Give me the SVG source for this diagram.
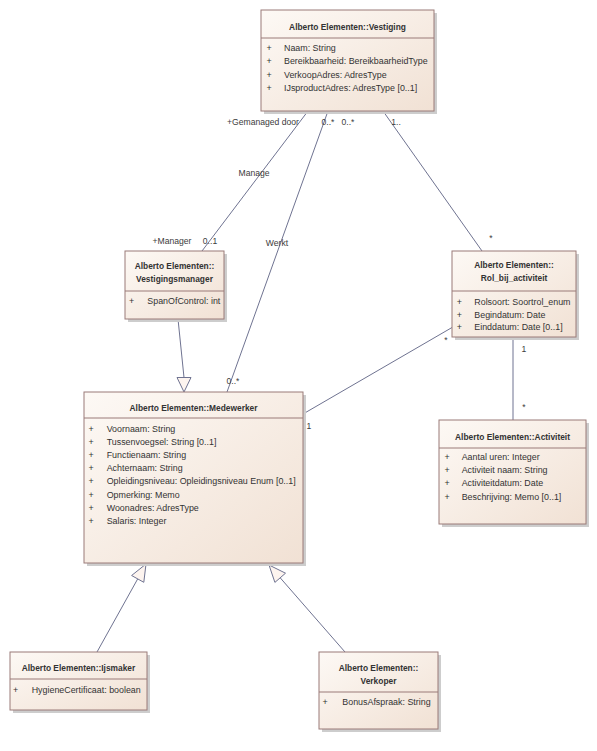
<svg xmlns="http://www.w3.org/2000/svg" width="597" height="751" viewBox="0 0 597 751">
<defs>
<linearGradient id="g" x1="0" y1="0" x2="1" y2="1">
<stop offset="0" stop-color="#FDF9F5"/>
<stop offset="1" stop-color="#F1E1D4"/>
</linearGradient>
<style>
.sh{fill:#CDCDCD}
.bx{fill:url(#g);stroke:#9A7B78;stroke-width:1}
.dv{stroke:#9A7B78;stroke-width:1}
.t{font-family:"Liberation Sans",Arial,sans-serif;font-size:8.4px;font-weight:bold;fill:#333333;text-anchor:middle}
.a{font-family:"Liberation Sans",Arial,sans-serif;font-size:8.9px;fill:#333333}
.p{font-family:"Liberation Sans",Arial,sans-serif;font-size:8.9px;fill:#333333;text-anchor:middle}
.l{font-family:"Liberation Sans",Arial,sans-serif;font-size:8.6px;fill:#3C3C3C;text-anchor:middle}
.c{stroke:#6F7391;stroke-width:1;fill:none}
.tri{fill:#FDF4EF;stroke:#6F7391;stroke-width:1}
</style>
</defs>
<rect width="597" height="751" fill="#FFFFFF"/>

<g id="connectors">
<line class="c" x1="308" y1="111" x2="202" y2="251"/>
<line class="c" x1="328" y1="111" x2="227" y2="392"/>
<line class="c" x1="383" y1="111" x2="482" y2="251"/>
<line class="c" x1="303" y1="414" x2="452" y2="327.5"/>
<line class="c" x1="513" y1="337" x2="513" y2="420"/>
<line class="c" x1="178" y1="319" x2="184" y2="377.5"/>
<polygon class="tri" points="184,392 177,377.5 191,377.5"/>
<line class="c" x1="97" y1="652" x2="137.7" y2="578.9"/>
<polygon class="tri" points="146,564 131.6,575.5 143.8,582.3"/>
<line class="c" x1="345" y1="652" x2="280.2" y2="577.8"/>
<polygon class="tri" points="269,565 274.9,582.4 285.5,573.2"/>
<text class="l" x="263" y="125">+Gemanaged door</text>
<text class="l" x="328" y="125">0..*</text>
<text class="l" x="348" y="125">0..*</text>
<text class="l" x="396" y="125">1..</text>
<text class="l" x="254" y="176">Manage</text>
<text class="l" x="277" y="246">Werkt</text>
<text class="l" x="172" y="243.5">+Manager</text>
<text class="l" x="210" y="243.5">0..1</text>
<text class="l" x="233" y="384">0..*</text>
<text class="l" x="491" y="241">*</text>
<text class="l" x="309" y="429">1</text>
<text class="l" x="446" y="343">*</text>
<text class="l" x="524" y="352">1</text>
<text class="l" x="524" y="410">*</text>
</g>

<g id="vestiging">
<rect class="sh" x="264" y="13" width="173" height="101"/>
<rect class="bx" x="261" y="10" width="173" height="101"/>
<line class="dv" x1="261" y1="38" x2="434" y2="38"/>
<text class="t" x="347.5" y="30">Alberto Elementen::Vestiging</text>
<text class="p" x="269" y="51">+</text><text class="a" x="284" y="51">Naam: String</text>
<text class="p" x="269" y="64.3">+</text><text class="a" x="284" y="64.3">Bereikbaarheid: BereikbaarheidType</text>
<text class="p" x="269" y="77.6">+</text><text class="a" x="284" y="77.6">VerkoopAdres: AdresType</text>
<text class="p" x="269" y="91">+</text><text class="a" x="284" y="91">IJsproductAdres: AdresType [0..1]</text>
</g>

<g id="vestigingsmanager">
<rect class="sh" x="128" y="254" width="99" height="68"/>
<rect class="bx" x="125" y="251" width="99" height="68"/>
<line class="dv" x1="125" y1="291" x2="224" y2="291"/>
<text class="t" x="174.5" y="269">Alberto Elementen::</text>
<text class="t" x="174.5" y="282">Vestigingsmanager</text>
<text class="p" x="131.7" y="304">+</text><text class="a" x="147.3" y="304">SpanOfControl: int</text>
</g>

<g id="rol_bij_activiteit">
<rect class="sh" x="455" y="254" width="124" height="86"/>
<rect class="bx" x="452" y="251" width="124" height="86"/>
<line class="dv" x1="452" y1="291" x2="576" y2="291"/>
<text class="t" x="514" y="268">Alberto Elementen::</text>
<text class="t" x="514" y="281">Rol_bij_activiteit</text>
<text class="p" x="459.3" y="305">+</text><text class="a" x="474.3" y="305">Rolsoort: Soortrol_enum</text>
<text class="p" x="459.3" y="317.5">+</text><text class="a" x="474.3" y="317.5">Begindatum: Date</text>
<text class="p" x="459.3" y="330">+</text><text class="a" x="474.3" y="330">Einddatum: Date [0..1]</text>
</g>

<g id="medewerker">
<rect class="sh" x="87" y="395" width="219" height="171"/>
<rect class="bx" x="84" y="392" width="219" height="171"/>
<line class="dv" x1="84" y1="418" x2="303" y2="418"/>
<text class="t" x="193.5" y="411">Alberto Elementen::Medewerker</text>
<text class="p" x="91" y="432">+</text><text class="a" x="106.7" y="432">Voornaam: String</text>
<text class="p" x="91" y="445.1">+</text><text class="a" x="106.7" y="445.1">Tussenvoegsel: String [0..1]</text>
<text class="p" x="91" y="458.2">+</text><text class="a" x="106.7" y="458.2">Functienaam: String</text>
<text class="p" x="91" y="471.3">+</text><text class="a" x="106.7" y="471.3">Achternaam: String</text>
<text class="p" x="91" y="484.4">+</text><text class="a" x="106.7" y="484.4">Opleidingsniveau: Opleidingsniveau Enum [0..1]</text>
<text class="p" x="91" y="497.5">+</text><text class="a" x="106.7" y="497.5">Opmerking: Memo</text>
<text class="p" x="91" y="510.6">+</text><text class="a" x="106.7" y="510.6">Woonadres: AdresType</text>
<text class="p" x="91" y="523.7">+</text><text class="a" x="106.7" y="523.7">Salaris: Integer</text>
</g>

<g id="activiteit">
<rect class="sh" x="442" y="423" width="147" height="104"/>
<rect class="bx" x="439" y="420" width="147" height="104"/>
<line class="dv" x1="439" y1="448" x2="586" y2="448"/>
<text class="t" x="512.5" y="440">Alberto Elementen::Activiteit</text>
<text class="p" x="447" y="460">+</text><text class="a" x="461.7" y="460">Aantal uren: Integer</text>
<text class="p" x="447" y="473.2">+</text><text class="a" x="461.7" y="473.2">Activiteit naam: String</text>
<text class="p" x="447" y="486.4">+</text><text class="a" x="461.7" y="486.4">Activiteitdatum: Date</text>
<text class="p" x="447" y="499.6">+</text><text class="a" x="461.7" y="499.6">Beschrijving: Memo [0..1]</text>
</g>

<g id="ijsmaker">
<rect class="sh" x="13" y="655" width="137" height="58"/>
<rect class="bx" x="10" y="652" width="137" height="58"/>
<line class="dv" x1="10" y1="679" x2="147" y2="679"/>
<text class="t" x="78.5" y="671">Alberto Elementen::Ijsmaker</text>
<text class="p" x="15.5" y="693">+</text><text class="a" x="31.7" y="693">HygieneCertificaat: boolean</text>
</g>

<g id="verkoper">
<rect class="sh" x="322" y="655" width="119" height="77"/>
<rect class="bx" x="319" y="652" width="119" height="77"/>
<line class="dv" x1="319" y1="692" x2="438" y2="692"/>
<text class="t" x="378.5" y="671">Alberto Elementen::</text>
<text class="t" x="378.5" y="684">Verkoper</text>
<text class="p" x="325" y="705">+</text><text class="a" x="342.3" y="705">BonusAfspraak: String</text>
</g>
</svg>
